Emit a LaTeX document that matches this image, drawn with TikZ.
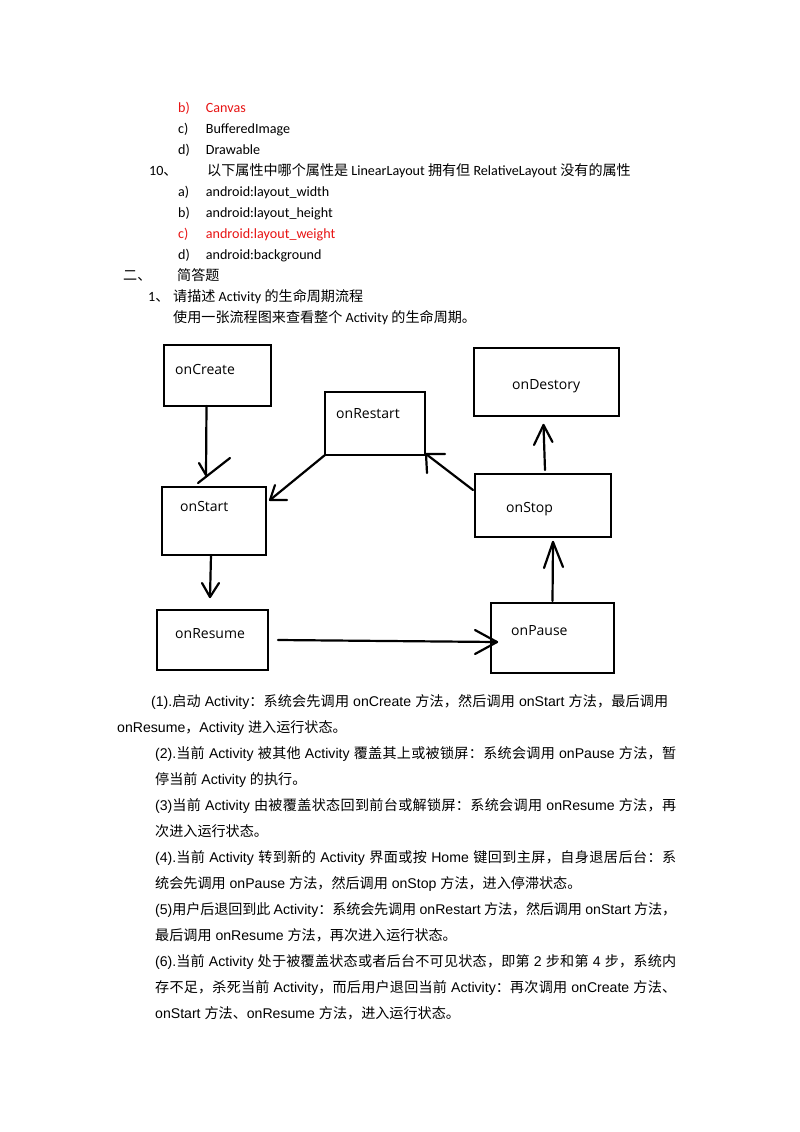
\documentclass[tikz,border=0pt]{standalone}
\usepackage{fontspec}
\usetikzlibrary{calc}
\newfontfamily\carl{Carlito}
\newfontfamily\arialf{Liberation Sans}
\newfontfamily\opens{Open Sans}
\newfontfamily\cjkfont{Noto Sans CJK SC}
\let\curlatin\carl
\definecolor{ansred}{RGB}{232,20,20}
% automatic CJK font switching
\XeTeXinterchartokenstate=1
\chardef\cjkcls=10
\newcount\cjkc
\cjkc="3000
\loop \XeTeXcharclass\cjkc=\cjkcls \ifnum\cjkc<"303F\relax \advance\cjkc by 1 \repeat
\cjkc="4E00
\loop \XeTeXcharclass\cjkc=\cjkcls \ifnum\cjkc<"9FFF\relax \advance\cjkc by 1 \repeat
\cjkc="FF00
\loop \XeTeXcharclass\cjkc=\cjkcls \ifnum\cjkc<"FFEF\relax \advance\cjkc by 1 \repeat
\XeTeXinterchartoks 0 \cjkcls = {\cjkfont}
\XeTeXinterchartoks 4095 \cjkcls = {\cjkfont}
\XeTeXinterchartoks \cjkcls 0 = {\curlatin}
\XeTeXinterchartoks \cjkcls 4095 = {\curlatin}
\XeTeXinterchartoks \cjkcls \cjkcls = {\hskip 0pt plus 2pt minus 0.3pt\relax}
\newcommand\jline[2]{\makebox[#1][s]{#2}}
\begin{document}
\begin{tikzpicture}[x=1pt,y=-1pt,
  box/.style={draw, line width=2.6pt, inner sep=0pt, outer sep=0pt},
  conn/.style={line width=2.2pt, line cap=round, line join=round},
  lbl/.style={font=\fontsize{14}{16}\selectfont\opens, inner sep=0pt, anchor=base west},
  toptext/.style={font=\fontsize{14.1}{17}\selectfont\carl\let\curlatin\carl, inner sep=0pt, anchor=base west},
  bodytext/.style={font=\fontsize{14.1}{17}\selectfont\arialf\let\curlatin\arialf, inner sep=0pt, anchor=base west},
  ans/.style={text=ansred}]
\fill[white] (0,0) rectangle (800,1132);
\useasboundingbox (0,0) rectangle (800,1132);

% ---- top list ----
\node[toptext,ans] (qb) at (178,112.5) {b)};
\node[toptext,ans] (qbt) at (205.7,112.5) {Canvas};
\node[toptext] (qc) at (178,133.5) {c)};
\node[toptext] (qct) at (205.7,133.5) {BufferedImage};
\node[toptext] (qd) at (178,154.5) {d)};
\node[toptext] (qdt) at (205.7,154.5) {Drawable};
\node[toptext] (q10) at (149,175.5) {10、};
\node[toptext] (q10t) at (207,175.5) {以下属性中哪个属性是 LinearLayout 拥有但 RelativeLayout 没有的属性};
\node[toptext] (ra) at (178,196.5) {a)};
\node[toptext] (rat) at (205.7,196.5) {android:layout\_width};
\node[toptext] (rb) at (178,217.5) {b)};
\node[toptext] (rbt) at (205.7,217.5) {android:layout\_height};
\node[toptext,ans] (rc) at (178,238.5) {c)};
\node[toptext,ans] (rct) at (205.7,238.5) {android:layout\_weight};
\node[toptext] (rd) at (178,259.5) {d)};
\node[toptext] (rdt) at (205.7,259.5) {android:background};
\node[toptext] (s2) at (123,280.5) {二、};
\node[toptext] (s2t) at (177,280.5) {简答题};
\node[toptext] (s21) at (148,301.5) {1、};
\node[toptext] (s21t) at (173,301.5) {请描述 Activity 的生命周期流程};
\node[toptext] (s21u) at (173,322.5) {使用一张流程图来查看整个 Activity 的生命周期。};

% ---- diagram boxes ----
\node[box, minimum width=107pt, minimum height=61pt] (create) at (217.5,375.5) {};
\node[box, minimum width=100pt, minimum height=63pt] (restart) at (375,423.5) {};
\node[box, minimum width=145pt, minimum height=68pt] (destroy) at (546.5,382) {};
\node[box, minimum width=104pt, minimum height=68pt] (start) at (214,521) {};
\node[box, minimum width=136pt, minimum height=63pt] (stop) at (543,505.5) {};
\node[box, minimum width=111pt, minimum height=60pt] (resume) at (212.5,640) {};
\node[box, minimum width=123pt, minimum height=70pt] (pause) at (552.5,638) {};

\node[lbl] (lcreate) at (175,374) {onCreate};
\node[lbl] (lrestart) at (336,418) {onRestart};
\node[lbl] (ldestroy) at (512,389) {onDestory};
\node[lbl] (lstart) at (180,511.5) {onStart};
\node[lbl] (lstop) at (506,512) {onStop};
\node[lbl] (lresume) at (175,638) {onResume};
\node[lbl] (lpause) at (511,635.5) {onPause};

% ---- connectors (hand-drawn open heads) ----
\coordinate (T1) at ($(start.north)+(-8,-12)$);
\draw[conn] ($(create.south)+(-11,0)$) -- (T1);
\draw[conn] ($(T1)+(-7,-12)$) -- (T1);
\draw[conn] ($(T1)+(-8,8)$) -- ($(T1)+(24,-17)$);

\coordinate (T2) at ($(start.north east)+(4,13)$);
\draw[conn] (restart.south west) -- (T2);
\draw[conn] ($(T2)+(5,-15)$) -- (T2) -- ($(T2)+(17,0)$);

\coordinate (T3) at ($(restart.south east)+(1,-1)$);
\draw[conn] ($(stop.north west)+(-2,16)$) -- (T3);
\draw[conn] ($(T3)+(19,0)$) -- (T3) -- ($(T3)+(1,19)$);

\coordinate (T4) at ($(destroy.south)+(-3,9)$);
\draw[conn] ($(stop.north)+(2,-4)$) -- (T4);
\draw[conn] ($(T4)+(-9.5,20)$) -- (T4) -- ($(T4)+(9,17)$);

\coordinate (T5) at ($(resume.north)+(-2.5,-13)$);
\draw[conn] ($(start.south)+(-3,0)$) -- (T5);
\draw[conn] ($(T5)+(-8,-14)$) -- (T5) -- ($(T5)+(9,-14)$);

\coordinate (T6) at ($(pause.west)+(6,4)$);
\draw[conn] ($(resume.east)+(10,0)$) -- (T6);
\draw[conn] ($(T6)+(-22,-12)$) -- (T6) -- ($(T6)+(-22,12)$);

\coordinate (T7) at ($(stop.south)+(10,5)$);
\draw[conn] ($(pause.north)+(0,-2)$) -- (T7);
\draw[conn] ($(T7)+(-9,26)$) -- (T7) -- ($(T7)+(10,25)$);

% ---- body text ----
\node[bodytext] (p1a) at (151,706) {\jline{517pt}{(1).启动 Activity：系统会先调用 onCreate 方法，然后调用 onStart 方法，最后调用}};
\node[bodytext] (p1b) at (117,732) {onResume，Activity 进入运行状态。};
\node[bodytext] (p2a) at (155,758) {\jline{521pt}{(2).当前 Activity 被其他 Activity 覆盖其上或被锁屏：系统会调用 onPause 方法，暂}};
\node[bodytext] (p2b) at (155,784) {停当前 Activity 的执行。};
\node[bodytext] (p3a) at (155,810) {\jline{521pt}{(3)当前 Activity 由被覆盖状态回到前台或解锁屏：系统会调用 onResume 方法，再}};
\node[bodytext] (p3b) at (155,836) {次进入运行状态。};
\node[bodytext] (p4a) at (155,862) {\jline{521pt}{(4).当前 Activity 转到新的 Activity 界面或按 Home 键回到主屏，自身退居后台：系}};
\node[bodytext] (p4b) at (155,888) {统会先调用 onPause 方法，然后调用 onStop 方法，进入停滞状态。};
\node[bodytext] (p5a) at (155,914) {\jline{521pt}{(5)用户后退回到此 Activity：系统会先调用 onRestart 方法，然后调用 onStart 方法，}};
\node[bodytext] (p5b) at (155,940) {最后调用 onResume 方法，再次进入运行状态。};
\node[bodytext] (p6a) at (155,966) {\jline{521pt}{(6).当前 Activity 处于被覆盖状态或者后台不可见状态，即第 2 步和第 4 步，系统内}};
\node[bodytext] (p6b) at (155,992) {\jline{521pt}{存不足，杀死当前 Activity，而后用户退回当前 Activity：再次调用 onCreate 方法、}};
\node[bodytext] (p6c) at (155,1018) {onStart 方法、onResume 方法，进入运行状态。};
\end{tikzpicture}
\end{document}
